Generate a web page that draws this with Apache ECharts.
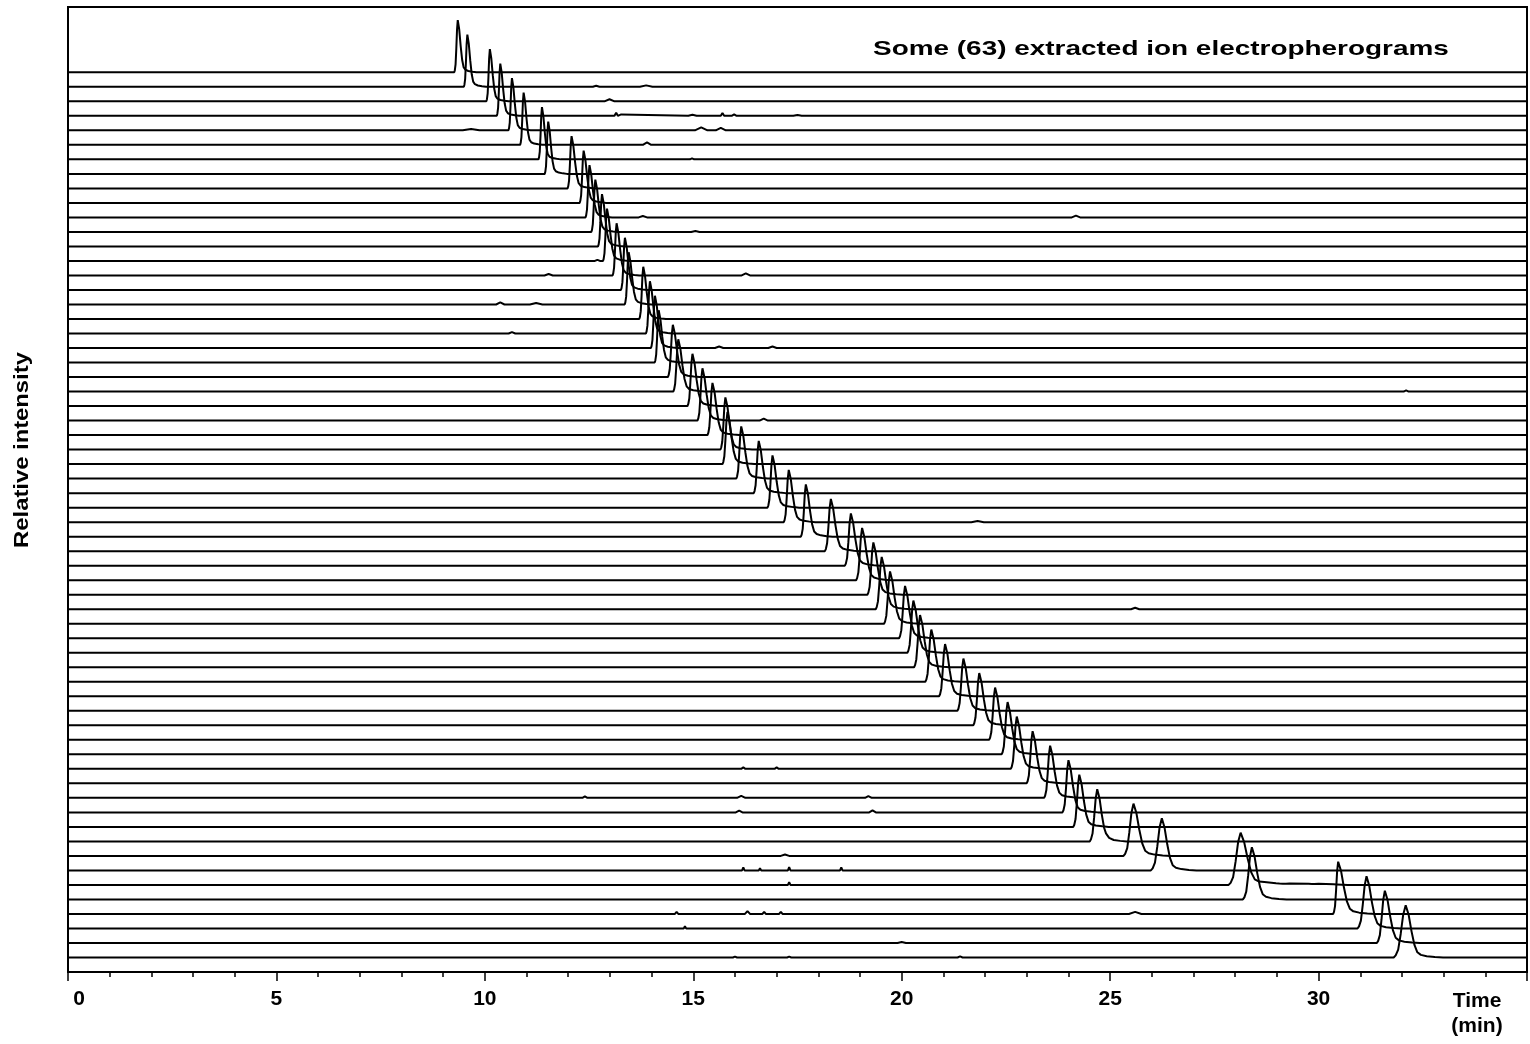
<!DOCTYPE html>
<html>
<head>
<meta charset="utf-8">
<title>Extracted ion electropherograms</title>
<script src="https://cdn.jsdelivr.net/npm/echarts@6/dist/echarts.min.js"></script>
<style>
html, body { margin: 0; padding: 0; background: #fff; }
#chart { width: 1530px; height: 1044px; }
</style>
</head>
<body>
<div id="chart"></div>
<script>
// apex time (min) of the main peak in each trace, top trace first
var peakTimes = [9.35, 9.58, 10.12, 10.37, 10.65, 10.93, 11.37, 11.52, 12.08, 12.37,
	12.51, 12.65, 12.81, 12.93, 13.16, 13.36, 13.45, 13.80, 13.96, 14.08,
	14.17, 14.51, 14.64, 14.98, 15.22, 15.46, 15.77, 15.82, 16.15, 16.57,
	16.90, 17.29, 17.70, 18.30, 18.78, 19.05, 19.32, 19.52, 19.72, 20.08,
	20.28, 20.44, 20.71, 21.04, 21.48, 21.86, 22.24, 22.54, 22.76, 23.14,
	23.56, 24.00, 24.26, 24.69, 25.56, 26.24, 28.13, 28.40, 30.47, 31.15,
	31.59, 32.09];
// leading edge width (min) of each peak
var peakRise = [0.07, 0.07, 0.07, 0.07, 0.07, 0.07, 0.07, 0.07, 0.08, 0.08,
	0.08, 0.08, 0.08, 0.08, 0.08, 0.08, 0.08, 0.08, 0.08, 0.08,
	0.08, 0.10, 0.10, 0.10, 0.10, 0.10, 0.10, 0.10, 0.10, 0.10,
	0.10, 0.10, 0.10, 0.12, 0.12, 0.12, 0.12, 0.12, 0.12, 0.12,
	0.12, 0.12, 0.12, 0.12, 0.12, 0.12, 0.12, 0.12, 0.12, 0.12,
	0.12, 0.12, 0.12, 0.15, 0.20, 0.22, 0.24, 0.18, 0.10, 0.18,
	0.16, 0.24];
// trailing edge width (min) of each peak
var peakFall = [0.14, 0.14, 0.14, 0.14, 0.14, 0.14, 0.14, 0.14, 0.17, 0.17,
	0.17, 0.17, 0.17, 0.17, 0.17, 0.17, 0.17, 0.17, 0.17, 0.17,
	0.17, 0.20, 0.20, 0.20, 0.20, 0.20, 0.20, 0.20, 0.20, 0.20,
	0.20, 0.20, 0.20, 0.22, 0.22, 0.22, 0.22, 0.22, 0.22, 0.22,
	0.22, 0.22, 0.22, 0.22, 0.22, 0.22, 0.22, 0.22, 0.22, 0.22,
	0.22, 0.22, 0.22, 0.22, 0.28, 0.26, 0.34, 0.26, 0.28, 0.26,
	0.26, 0.28];
var peakHeight = 3.6; // in trace spacings

// normalised peak outline: [offset in edge widths, relative height]
var peakRiseShape = [[-1.2, 0], [-1.0, 0.04], [-0.75, 0.15], [-0.5, 0.45], [-0.25, 0.82], [0, 1]];
var peakFallShape = [[0, 1], [0.25, 0.82], [0.5, 0.5], [0.75, 0.24], [1.0, 0.1], [1.3, 0.05], [1.8, 0.025], [2.5, 0.01], [3.2, 0]];

// small baseline features: [trace (1 = top), time min, height, half width min]
var bumps = [
	[2, 12.67, 0.07, 0.08], [2, 13.87, 0.1, 0.15],
	[3, 9.59, 0.1, 0.03], [3, 12.99, 0.14, 0.12],
	[4, 13.15, 0.22, 0.04], [4, 13.27, 0.1, 0.04], [4, 14.98, 0.08, 0.1], [4, 15.70, 0.2, 0.04], [4, 15.98, 0.1, 0.06], [4, 17.5, 0.06, 0.1],
	[5, 9.67, 0.1, 0.2], [5, 14.21, 0.1, 0.04], [5, 15.19, 0.2, 0.15], [5, 15.66, 0.17, 0.12],
	[6, 13.89, 0.17, 0.1],
	[7, 14.97, 0.07, 0.05],
	[11, 13.79, 0.1, 0.1], [11, 24.18, 0.12, 0.1],
	[12, 15.05, 0.07, 0.1],
	[14, 12.7, 0.08, 0.06],
	[15, 11.53, 0.1, 0.1], [15, 16.26, 0.14, 0.1], [15, 19.0, 0.08, 0.04],
	[17, 10.37, 0.14, 0.1], [17, 11.23, 0.1, 0.15], [17, 14.9, 0.07, 0.04],
	[19, 10.65, 0.1, 0.08],
	[20, 15.62, 0.1, 0.1], [20, 16.9, 0.1, 0.1],
	[23, 32.1, 0.08, 0.06],
	[25, 16.69, 0.14, 0.1],
	[32, 21.82, 0.08, 0.15],
	[38, 25.6, 0.1, 0.1],
	[48, 20.7, 0.07, 0.04],
	[49, 12.4, 0.12, 0.04], [49, 14.7, 0.1, 0.04], [49, 16.2, 0.1, 0.05], [49, 17.0, 0.1, 0.05],
	[51, 12.4, 0.1, 0.06], [51, 16.15, 0.14, 0.1], [51, 19.2, 0.12, 0.08],
	[52, 16.1, 0.12, 0.08], [52, 19.3, 0.14, 0.08],
	[53, 15.7, 0.1, 0.04],
	[54, 24.9, 0.1, 0.2],
	[55, 17.2, 0.1, 0.1],
	[56, 16.2, 0.2, 0.03], [56, 16.6, 0.15, 0.03], [56, 17.3, 0.22, 0.03], [56, 18.55, 0.2, 0.03], [56, 19.3, 0.12, 0.04], [56, 19.7, 0.12, 0.04], [56, 22.0, 0.1, 0.04],
	[57, 17.3, 0.2, 0.03], [57, 28.75, 0.1, 0.35], [57, 29.3, 0.1, 0.6], [57, 30.0, 0.08, 0.7], [57, 29.1, 0.05, 0.04], [57, 29.8, 0.05, 0.04], [57, 30.4, 0.04, 0.04],
	[59, 11.4, 0.1, 0.03], [59, 12.5, 0.1, 0.03], [59, 14.1, 0.12, 0.04], [59, 14.6, 0.14, 0.04], [59, 16.3, 0.2, 0.06], [59, 16.7, 0.15, 0.04], [59, 17.1, 0.15, 0.04], [59, 20.4, 0.12, 0.04], [59, 25.6, 0.14, 0.15],
	[60, 14.8, 0.15, 0.03],
	[61, 20.0, 0.07, 0.1],
	[62, 16.0, 0.06, 0.05], [62, 17.3, 0.06, 0.05], [62, 21.4, 0.08, 0.06]
];

var timeMin = 0, timeMax = 35;
var fontFamily = '"Liberation Sans", Arial, sans-serif';

function lookup(tbl, u) {
	if (u <= tbl[0][0]) return tbl[0][1];
	for (var i = 1; i < tbl.length; i++) {
		if (u <= tbl[i][0]) {
			var a = tbl[i - 1], b = tbl[i];
			return a[1] + (b[1] - a[1]) * (u - a[0]) / (b[0] - a[0]);
		}
	}
	return tbl[tbl.length - 1][1];
}

function traceData(r) {
	var base = peakTimes.length - 1 - r;
	var t0 = peakTimes[r];
	var mine = bumps.filter(function (b) { return b[0] === r + 1; });
	var xs = [timeMin, timeMax];
	peakRiseShape.forEach(function (p) { xs.push(t0 + p[0] * peakRise[r]); });
	peakFallShape.forEach(function (p) { xs.push(t0 + p[0] * peakFall[r]); });
	mine.forEach(function (b) { xs.push(b[1] - b[3], b[1], b[1] + b[3]); });
	xs = xs.filter(function (x) { return x >= timeMin && x <= timeMax; })
		.sort(function (a, b) { return a - b; });
	var pts = [];
	xs.forEach(function (x) {
		if (pts.length && Math.abs(pts[pts.length - 1][0] - x) < 1e-6) return;
		var dt = x - t0;
		var v = dt < 0 ? lookup(peakRiseShape, dt / peakRise[r]) : lookup(peakFallShape, dt / peakFall[r]);
		var y = base + peakHeight * v;
		mine.forEach(function (b) {
			y += Math.max(0, b[2] * (1 - Math.abs(x - b[1]) / b[3]));
		});
		pts.push([x, y]);
	});
	return pts;
}

var series = [];
for (var r = 0; r < peakTimes.length; r++) {
	series.push({
		type: 'line',
		data: traceData(r),
		symbol: 'none',
		silent: true,
		lineStyle: { color: '#000', width: 2 }
	});
}

var myChart = echarts.init(document.getElementById('chart'));
myChart.setOption({
	animation: false,
	backgroundColor: '#fff',
	grid: {
		left: 68,
		right: 2,
		top: 7,
		bottom: 72,
		show: true,
		borderColor: '#000',
		borderWidth: 2,
		backgroundColor: 'transparent'
	},
	xAxis: {
		type: 'value',
		min: timeMin,
		max: timeMax,
		interval: 5,
		axisLine: { show: false, onZero: false },
		axisTick: { show: true, length: 9, lineStyle: { color: '#000', width: 1.5 } },
		minorTick: { show: true, splitNumber: 5, length: 5, lineStyle: { color: '#000', width: 1.5 } },
		splitLine: { show: false },
		axisLabel: {
			margin: 17,
			color: '#000',
			fontSize: 21,
			fontWeight: 'bold',
			fontFamily: fontFamily,
			formatter: function (v) {
				if (v === 0) return '{z|0}';
				if (v === timeMax) return '';
				return String(v);
			},
			rich: {
				z: { padding: [0, 0, 0, 22], fontSize: 21, fontWeight: 'bold', fontFamily: fontFamily, color: '#000' }
			}
		},
		name: 'Time\n(min)',
		nameLocation: 'end',
		nameGap: -50,
		nameTextStyle: {
			color: '#000',
			fontSize: 21,
			fontWeight: 'bold',
			fontFamily: fontFamily,
			align: 'center',
			verticalAlign: 'top',
			lineHeight: 25,
			padding: [17, 0, 0, 0]
		}
	},
	yAxis: {
		type: 'value',
		min: -1,
		max: 65.5,
		show: false
	},
	graphic: [{
		type: 'text',
		x: 873,
		y: 49,
		scaleX: 1.33,
		style: {
			text: 'Some (63) extracted ion electropherograms',
			font: 'bold 21px ' + fontFamily,
			fill: '#000',
			align: 'left',
			verticalAlign: 'middle'
		}
	}, {
		type: 'text',
		x: 22,
		y: 450,
		rotation: Math.PI / 2,
		scaleX: 1.19,
		style: {
			text: 'Relative intensity',
			font: 'bold 20px ' + fontFamily,
			fill: '#000',
			align: 'center',
			verticalAlign: 'middle'
		}
	}],
	series: series
});
window.addEventListener('resize', function () {
	myChart.resize();
});
</script>
</body>
</html>
